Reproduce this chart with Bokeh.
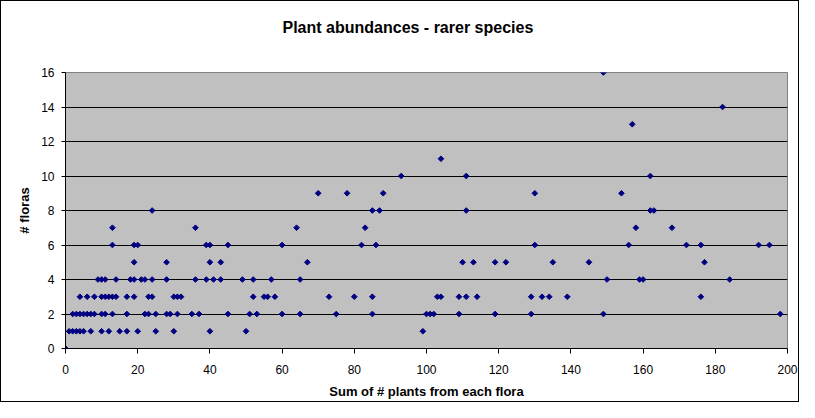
import math
from bokeh.plotting import figure
from bokeh.models import FixedTicker, ColumnDataSource, Title
from bokeh.embed import file_html
from bokeh.resources import INLINE

title_text = "Plant abundances - rarer species"
x_label = "Sum of # plants from each flora"
y_label = "# floras"
x_ticks = [0, 20, 40, 60, 80, 100, 120, 140, 160, 180, 200]
y_ticks = [0, 2, 4, 6, 8, 10, 12, 14, 16]

# Sum of plants (x) for each number of floras (y)
sums_0 = [0]
sums_1 = [1, 2, 3, 4, 5, 7, 10, 12, 15, 17, 20, 25, 30, 40, 50, 99]
sums_2 = [2, 3, 4, 5, 6, 7, 8, 10, 11, 13, 17, 22, 23, 25, 28, 29, 31, 35, 37, 45,
          51, 53, 60, 65, 75, 85, 100, 101, 102, 109, 119, 129, 149, 198]
sums_3 = [4, 6, 8, 10, 11, 12, 13, 14, 17, 19, 23, 24, 30, 31, 32, 52, 55, 56, 58,
          73, 80, 85, 103, 104, 109, 111, 114, 129, 132, 134, 139, 176]
sums_4 = [9, 10, 11, 14, 18, 19, 21, 22, 24, 28, 36, 39, 41, 43, 49, 52, 57, 65,
          150, 159, 160, 184]
sums_5 = [19, 28, 40, 43, 67, 110, 113, 119, 122, 135, 145, 177]
sums_6 = [13, 19, 20, 39, 40, 45, 60, 82, 86, 130, 156, 172, 176, 192, 195]
sums_7 = [13, 36, 64, 83, 158, 168]
sums_8 = [24, 85, 87, 111, 162, 163]
sums_9 = [70, 78, 88, 130, 154]
sums_10 = [93, 111, 162]
sums_11 = [104]
sums_13 = [157]
sums_14 = [182]
sums_16 = [149]

groups = {0: sums_0, 1: sums_1, 2: sums_2, 3: sums_3, 4: sums_4, 5: sums_5,
          6: sums_6, 7: sums_7, 8: sums_8, 9: sums_9, 10: sums_10, 11: sums_11,
          13: sums_13, 14: sums_14, 16: sums_16}

xs, ys = [], []
for nf, sums in groups.items():
    for s in sums:
        xs.append(s)
        ys.append(nf)
src = ColumnDataSource(data=dict(x=xs, y=ys))

FONT = "Liberation Sans"

p = figure(frame_width=722, frame_height=276,
           x_range=(0, 200), y_range=(0, 16),
           output_backend="svg", toolbar_location=None,
           min_border_left=64, min_border_right=11,
           min_border_top=71, min_border_bottom=53)
p.styles = {"border": "1px solid black"}

p.background_fill_color = "#C0C0C0"
p.border_fill_color = "white"
p.outline_line_color = "#808080"
p.outline_line_width = 1

p.title.text = title_text
p.title.align = "left"
p.title.offset = 217
p.title.text_font = FONT
p.title.text_font_size = "16px"
p.title.text_font_style = "bold"
p.title.text_color = "black"

spacer = Title(text=" ", text_font_size="18px", standoff=10)
p.add_layout(spacer, "above")

p.xgrid.visible = False
p.ygrid.ticker = FixedTicker(ticks=y_ticks)
p.ygrid.grid_line_color = "black"
p.ygrid.grid_line_width = 1

p.xaxis.ticker = FixedTicker(ticks=x_ticks)
p.yaxis.ticker = FixedTicker(ticks=y_ticks)
for ax in (p.xaxis[0], p.yaxis[0]):
    ax.axis_line_color = "black"
    ax.major_tick_line_color = "black"
    ax.major_tick_in = 0
    ax.major_tick_out = 5
    ax.minor_tick_line_color = None
    ax.major_label_text_font = FONT
    ax.major_label_text_font_size = "12px"
    ax.major_label_text_color = "black"
    ax.axis_label_text_font = FONT
    ax.axis_label_text_font_size = "13px"
    ax.axis_label_text_font_style = "bold"
    ax.axis_label_text_color = "black"

p.xaxis.axis_label = x_label
p.yaxis.axis_label = y_label
p.xaxis.major_label_standoff = 11
p.xaxis.axis_label_standoff = 7
p.yaxis.major_tick_out = 4
p.yaxis.major_label_standoff = 7
p.yaxis.axis_label_standoff = 6

p.scatter("x", "y", source=src, marker="square", angle=math.pi / 4,
          size=4, fill_color="#000080", line_color="#000080", line_width=1)

open("out.html", "w").write(file_html(p, INLINE))
